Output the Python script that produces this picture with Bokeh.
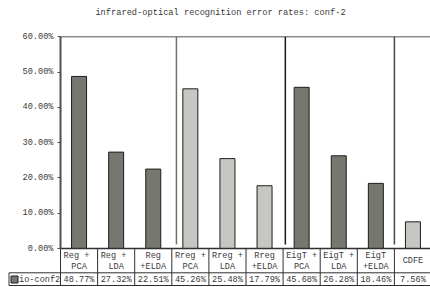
from bokeh.plotting import figure
from bokeh.models import Range1d, FixedTicker, PrintfTickFormatter, ColumnDataSource, Label
from bokeh.core.properties import value
from bokeh.embed import file_html
from bokeh.resources import INLINE

# ---------------- data ----------------
title_text = "infrared-optical recognition error rates: conf-2"
series_name = "io-conf2"
cat_line1 = ["Reg  +", "Reg  +", "Reg", "Rreg +", "Rreg +", "Rreg", "EigT +", "EigT +", "EigT", "CDFE"]
cat_line2 = ["PCA", "LDA", "+ELDA", "PCA", "LDA", "+ELDA", "PCA", "LDA", "+ELDA", ""]
group_of = ["Reg", "Reg", "Reg", "Rreg", "Rreg", "Rreg", "EigT", "EigT", "EigT", "CDFE"]
values = [48.77, 27.32, 22.51, 45.26, 25.48, 17.79, 45.68, 26.28, 18.46, 7.56]
y_ticks = [0, 10, 20, 30, 40, 50, 60]

# ---------------- styles / layout ----------------
DARK = "#77776f"
LIGHT = "#c6c6c2"
group_color = {"Reg": DARK, "Rreg": LIGHT, "EigT": DARK, "CDFE": LIGHT}
FONT = value("Liberation Mono")
FS = value("8.6px")
TXT = "#3a3a3a"

COL = 37.1      # px per category
X0 = 60.0       # page x of category 0 left edge
PXY = 3.528     # px per percent
Y0 = 248.0      # page y of 0 %

def px_x(px):
    return (px - X0) / COL

def px_y(py):
    return (Y0 - py) / PXY

n = len(values)
centers = [i + 0.5 for i in range(n)]

p = figure(width=430, height=287, output_backend="svg", toolbar_location=None,
           x_range=Range1d(px_x(0), px_x(430)), y_range=Range1d(px_y(287), px_y(0)),
           x_axis_type=None, min_border=0, outline_line_color=None,
           background_fill_color="white", border_fill_color="white")
p.grid.visible = False

# y axis placed at category 0 edge
ax = p.yaxis[0]
ax.fixed_location = 0
ax.bounds = (0, 60)
ax.ticker = FixedTicker(ticks=y_ticks)
ax.formatter = PrintfTickFormatter(format="%.2f%%")
ax.axis_line_color = "#505050"
ax.axis_line_width = 2
ax.major_tick_out = 3
ax.major_tick_in = 0
ax.minor_tick_line_color = None
ax.major_tick_line_color = "#505050"
ax.major_label_standoff = 4
ax.major_label_text_font = "Liberation Mono"
ax.major_label_text_font_size = "8.6px"
ax.major_label_text_color = TXT

# top border line at 60 %
p.segment(x0=[0], y0=[60], x1=[n + 0.05], y1=[60], line_color="#8c8c8c", line_width=1.5)

# group separators
sep_x = [3.125, 6.06, 9.0]
sep_col = ["#707070", "#1a1a1a", "#4a4a4a"]
p.segment(x0=sep_x, y0=[60] * 3, x1=sep_x, y1=[px_y(244)] * 3, line_color=sep_col, line_width=1.5)

# bars
src = ColumnDataSource(dict(x=centers, top=values, color=[group_color[g] for g in group_of]))
p.vbar(x="x", top="top", bottom=0, width=15 / COL, source=src,
       fill_color="color", line_color="#1e1e1e", line_width=1)

# x axis line
p.segment(x0=[0], y0=[0], x1=[n + 0.05], y1=[0], line_color="#303030", line_width=1.5)

# data table
row_mid = px_y(272.3)
row_bot = px_y(285)
p.segment(x0=list(range(n + 1)), y0=[0] * (n + 1), x1=list(range(n + 1)), y1=[row_bot] * (n + 1),
          line_color="#303030", line_width=1)
p.segment(x0=[px_x(8.5), px_x(8.5)], y0=[row_mid, row_mid], x1=[px_x(8.5), n + 0.05], y1=[row_bot, row_mid],
          line_color="#303030", line_width=1)
p.segment(x0=[px_x(8.5)], y0=[row_bot], x1=[n + 0.05], y1=[row_bot], line_color="#303030", line_width=1)

y_l1 = px_y(255)
y_l2 = px_y(266)
y_mid = px_y(260.5)
l1_y = [y_l1 if l2 else y_mid for l2 in cat_line2]
p.text(x=centers, y=l1_y, text=cat_line1, text_font=FONT, text_font_size=FS,
       text_align="center", text_baseline="middle", text_color=TXT)
idx2 = [i for i, l2 in enumerate(cat_line2) if l2]
p.text(x=[centers[i] for i in idx2], y=[y_l2] * len(idx2), text=[cat_line2[i] for i in idx2],
       text_font=FONT, text_font_size=FS, text_align="center", text_baseline="middle", text_color=TXT)

y_val = px_y(279)
p.text(x=centers, y=[y_val] * n, text=[f"{v:.2f}%" for v in values], text_font=FONT, text_font_size=FS,
       text_align="center", text_baseline="middle", text_color=TXT)

# legend key in table
p.scatter(x=[px_x(14)], y=[px_y(279)], marker="square", size=7, fill_color=DARK, line_color="#1e1e1e")
p.text(x=[px_x(18.5)], y=[y_val], text=[series_name], text_font=FONT, text_font_size=FS,
       text_align="left", text_baseline="middle", text_color=TXT)

# title
p.add_layout(Label(x=px_x(220), y=px_y(12.5), text=title_text, text_font="Liberation Mono",
                   text_font_size="8.7px", text_align="center", text_baseline="middle", text_color=TXT))

open("out.html", "w").write(file_html(p, INLINE))
